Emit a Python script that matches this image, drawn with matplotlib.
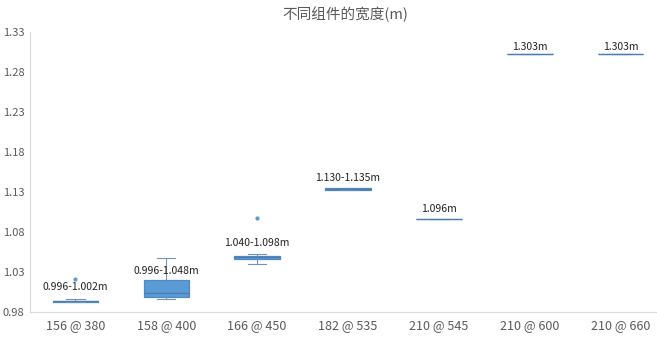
import matplotlib
matplotlib.use('Agg')
import matplotlib.pyplot as plt

plt.rcParams['font.family'] = ['Noto Sans CJK SC', 'DejaVu Sans']

# categories and box statistics
categories = ['156 @ 380', '158 @ 400', '166 @ 450', '182 @ 535', '210 @ 545', '210 @ 600', '210 @ 660']
whis_lo = [0.992, 0.996, 1.040, 1.132, 1.096, 1.303, 1.303]
q1 = [0.992, 0.998, 1.0455, 1.1318, 1.096, 1.303, 1.303]
med = [0.993, 1.003, 1.048, 1.133, 1.096, 1.303, 1.303]
q3 = [0.994, 1.0195, 1.0495, 1.1342, 1.096, 1.303, 1.303]
whis_hi = [0.996, 1.047, 1.052, 1.134, 1.096, 1.303, 1.303]
outliers = [[1.021], [], [1.097], [], [], [], []]
labels = ['0.996-1.002m', '0.996-1.048m', '1.040-1.098m', '1.130-1.135m', '1.096m', '1.303m', '1.303m']
label_y = [1.011, 1.031, 1.066, 1.147, 1.108, 1.311, 1.311]

stats = []
for i in range(len(categories)):
    stats.append({'whislo': whis_lo[i], 'q1': q1[i], 'med': med[i], 'q3': q3[i],
                  'whishi': whis_hi[i], 'fliers': outliers[i]})

fig = plt.figure(figsize=(6.57, 3.52), dpi=100)
ax = fig.add_axes([30 / 657, 40.3 / 352, 627 / 657, 279.7 / 352])

blue = '#5b9bd5'
edge = '#5089c4'
ax.bxp(stats, positions=range(len(categories)), widths=0.5, patch_artist=True,
       boxprops=dict(facecolor=blue, edgecolor=edge, linewidth=0.9),
       medianprops=dict(color='#4a7cb0', linewidth=0.9),
       whiskerprops=dict(color='#7393b8', linewidth=0.8),
       capprops=dict(color='#7393b8', linewidth=0.8),
       capwidths=0.2,
       flierprops=dict(marker='o', markersize=2, markerfacecolor=blue, markeredgecolor=blue))

for i, t in enumerate(labels):
    ax.text(i, label_y[i], t, ha='center', va='center', fontsize=7.5, color='#222222')

ax.set_xlim(-0.5, 6.4)
ax.set_ylim(0.98, 1.33)
ax.set_yticks([0.98, 1.03, 1.08, 1.13, 1.18, 1.23, 1.28, 1.33])
ax.set_yticklabels(['0.98', '1.03', '1.08', '1.13', '1.18', '1.23', '1.28', '1.33'])
ax.set_xticks(range(len(categories)))
ax.set_xticklabels(categories)
ax.tick_params(axis='y', length=0, labelsize=8, colors='#595959', pad=4)
ax.tick_params(axis='x', length=0, labelsize=9, colors='#595959', pad=5)

for s in ['top', 'right']:
    ax.spines[s].set_visible(False)
ax.spines['left'].set_color('#d9d9d9')
ax.spines['bottom'].set_color('#d9d9d9')

fig.text(345 / 657, 1 - 14 / 352, '不同组件的宽度(m)', ha='center', va='center', fontsize=10.5, color='#595959')

fig.savefig('out.png', dpi=100)
